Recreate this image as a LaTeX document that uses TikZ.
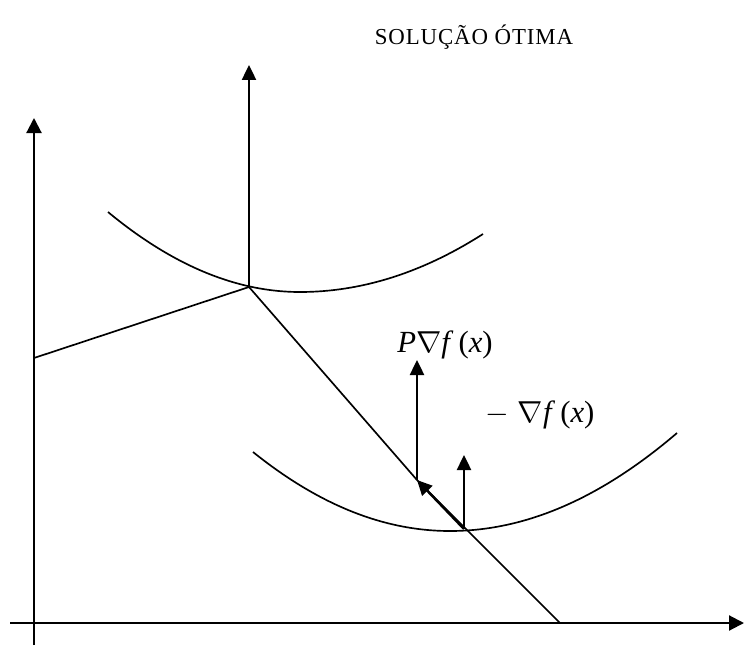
\documentclass[tikz,border=0pt]{standalone}
\usepackage{fontspec}
\setmainfont{Liberation Serif}
\usetikzlibrary{arrows.meta}

\begin{document}
\begin{tikzpicture}[x=0.02cm,y=-0.02cm,
  ax/.style={line width=1.2pt,-{Triangle[length=0.3cm,width=0.3cm]}},
  vec/.style={line width=1.4pt,-{Triangle[length=0.3cm,width=0.28cm]}},
  ln/.style={line width=0.95pt},
  lvl/.style={line width=0.95pt},
  lb/.style={font=\fontsize{17.5}{20}\selectfont,inner sep=0pt},
]
\useasboundingbox (0,0) rectangle (744,646);
% ============ axes ============
\coordinate (ybot) at (34,645);
\coordinate (ytop) at (34,118);
\coordinate (xlft) at (10,623);
\coordinate (xrgt) at (744,623);
\draw[ax] (ybot) -- (ytop);
\draw[ax] (xlft) -- (xrgt);
% ============ level curves ============
\draw[lvl] (108,212) .. controls (172,265) and (236,292) .. (300,292)
                     .. controls (361,292) and (422,273) .. (483,234);
\draw[lvl] (253,452) .. controls (319,505) and (384,531) .. (450,531)
                     .. controls (526,531) and (601,498) .. (677,433);
% ============ constraint and optimum ============
\coordinate (opt) at (249,287);
\coordinate (left) at (34,358);
\coordinate (tip) at (417,480);
\coordinate (cur) at (464,529);
\coordinate (foot) at (560,623);
\coordinate (otop) at (249,65);
\draw[ln] (left) -- (opt) -- (tip) -- (foot);
\draw[vec] (opt) -- (otop);
\node[font=\fontsize{13}{15}\selectfont\addfontfeatures{LetterSpace=4},inner sep=0pt]
  (title) at (474,37) {SOLUÇÃO ÓTIMA};
% ============ gradient vectors ============
\coordinate (ptop) at (417,360);
\coordinate (gtop) at (464,455);
\draw[vec] (cur) -- (tip);
\draw[vec] (tip) -- (ptop);
\draw[vec] (cur) -- (gtop);
\node[lb] (plab) at (445,345) {\textit{P}$\nabla$\textit{f}\,(\textit{x})};
\node[lb] (glab) at (540,415) {$-$\;$\nabla$\textit{f}\,(\textit{x})};
\end{tikzpicture}
\end{document}
